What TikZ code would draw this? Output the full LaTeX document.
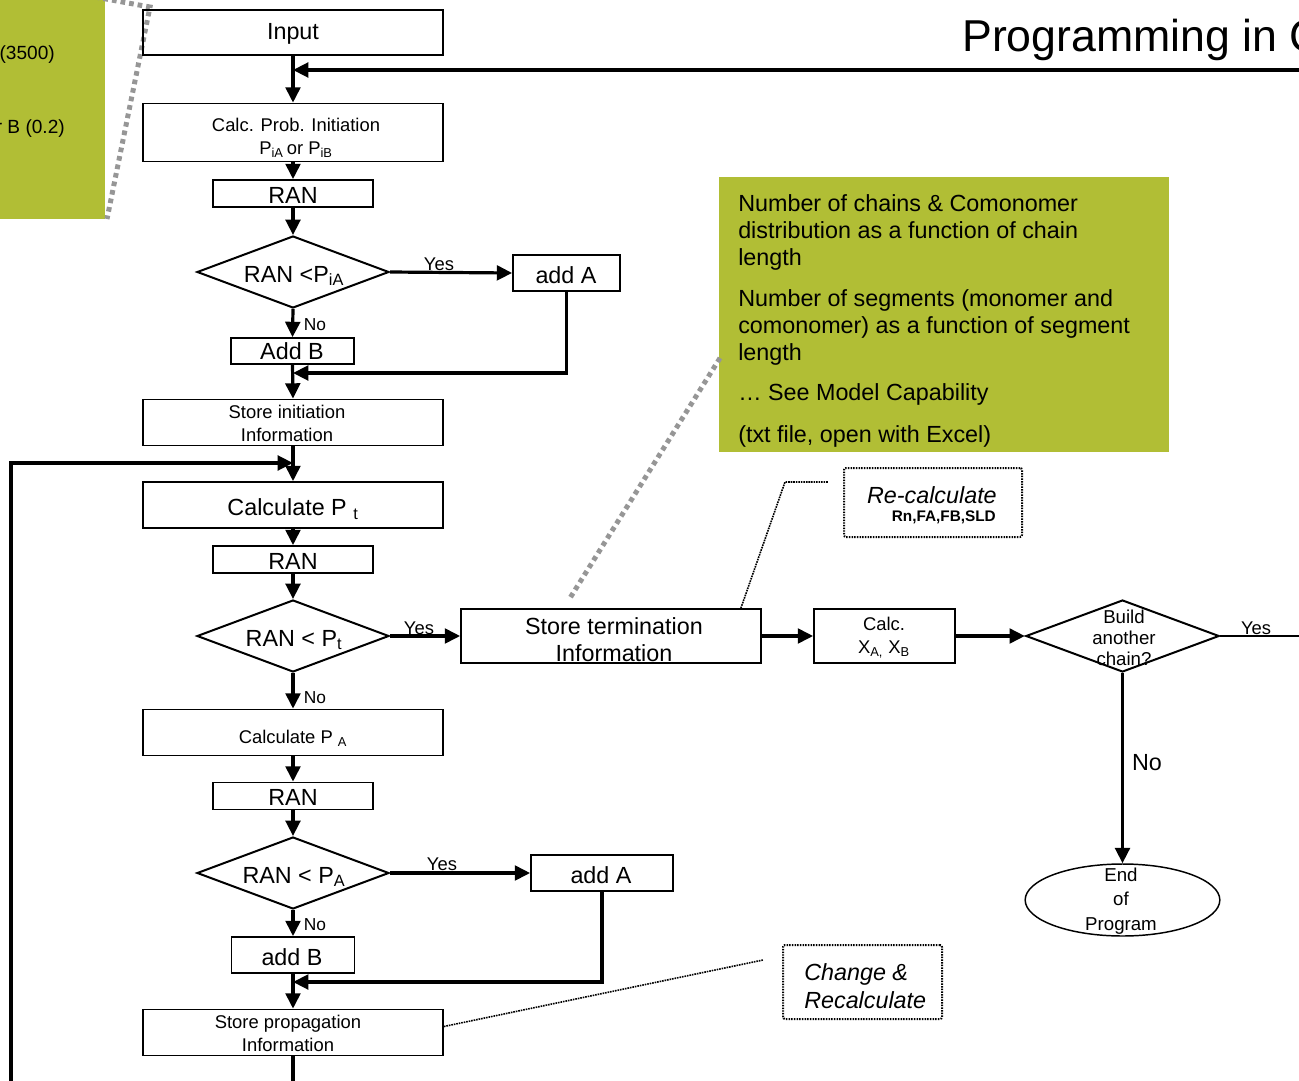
\documentclass[tikz,border=0pt]{standalone}
\usepackage{fontspec}
\setmainfont{Liberation Sans}
\usetikzlibrary{shapes.geometric,arrows.meta}
\definecolor{olivebox}{RGB}{177,190,53}
\definecolor{dotgray}{RGB}{150,150,150}
\newcommand{\fsA}{\fontsize{17.5pt}{20.25pt}\selectfont}
\newcommand{\fsB}{\fontsize{13.8pt}{17.25pt}\selectfont}
\newcommand{\fsC}{\fontsize{13pt}{15pt}\selectfont}
\newcommand{\fsT}{\fontsize{33.5pt}{40pt}\selectfont}
\begin{document}
\begin{tikzpicture}[x=0.75pt,y=-0.75pt,
  box/.style={draw,line width=1.3pt,inner sep=0pt,rectangle},
  dia/.style={draw,diamond,line width=1.5pt,inner sep=0pt,minimum width=144pt,minimum height=54pt},
  txt/.style={inner sep=0pt,align=center},
  flow/.style={line width=2.4pt,-{Triangle[length=11.5pt,width=11pt]}},
  thinline/.style={line width=0.8pt},
  callout/.style={line width=1.2pt,dash pattern=on 1.2pt off 0.7pt},
  note/.style={draw,line width=1.5pt,dash pattern=on 1.1pt off 0.9pt,rounded corners=1.5pt,rectangle,inner sep=0pt},
  graydots/.style={dotgray,line width=3.75pt,dash pattern=on 3.5pt off 3pt},
  green/.style={fill=olivebox,draw=none,rectangle,inner sep=0pt}
]
\useasboundingbox (0,0) rectangle (1299,1081);
\clip (0,0) rectangle (1299,1081);

% green boxes
\fill[olivebox] (-10,-10) rectangle (105,219);
\node[txt,anchor=base east,font=\fontsize{14.3pt}{17pt}\selectfont] (gl1) at (55,60) {(3500)};
\node[txt,anchor=base east,font=\fontsize{14.3pt}{17pt}\selectfont] (gl2) at (65,133) {r B (0.2)};

\node[green,minimum width=337.5pt,minimum height=206.25pt,anchor=north west] (gbox) at (719,177) {};
\foreach \n/\y/\t in {g1/211/{Number of chains \& Comonomer},
                      g2/238/{distribution as a function of chain},
                      g3/265/{length},
                      g4/306/{Number of segments (monomer and},
                      g5/333/{comonomer) as a function of segment},
                      g6/360/{length},
                      g7/400/{… See Model Capability},
                      g8/442/{(txt file, open with Excel)}}
  \node[txt,anchor=base west,font=\fsA] (\n) at (738,\y) {\t};

% gray dotted callout lines
\draw[graydots] (95,-3) -- (150,7) -- (107,219);
\draw[graydots] (720,358) -- (570,598);

% title
\node[txt,anchor=base west,font=\fsT] (title) at (962,52) {Programming in C};

% boxes
\node[box,minimum width=225pt,minimum height=33.75pt] (input) at (293,32.5) {};
\node[txt,font=\fsA] (inputt) at (293,34) {Input};
\node[box,minimum width=225pt,minimum height=43.5pt] (calcprob) at (293,132.5) {};
\node[txt,font=\fsB] (calcprobt) at (296,138) {Calc. Prob. Initiation\\P\textsubscript{iA}\,or P\textsubscript{iB}};
\node[box,minimum width=120pt,minimum height=20.25pt] (ran1) at (293,193.5) {};
\node[txt,font=\fsA] (ran1t) at (293,195) {RAN};
\node[dia] (d1) at (293,272) {};
\node[txt,font=\fsA] (d1t) at (294,276) {RAN <P\textsubscript{iA}};
\node[box,minimum width=80.25pt,minimum height=27pt] (addA1) at (566.5,273) {};
\node[txt,font=\fsA] (addA1t) at (566,275) {add A};
\node[box,minimum width=92.25pt,minimum height=19.5pt] (addB1) at (292.5,351) {};
\node[txt,font=\fsA] (addB1t) at (292,351) {Add B};
\node[box,minimum width=225pt,minimum height=34.5pt] (sinit) at (293,422.5) {};
\node[txt,font=\fsB,align=center] (sinitt) at (287,423) {Store initiation\\Information};

\node[box,minimum width=225pt,minimum height=34.5pt] (calcpt) at (293,505) {};
\node[txt,font=\fsA] (calcptt) at (293,509) {Calculate P \textsubscript{t}};
\node[box,minimum width=120pt,minimum height=20.25pt] (ran2) at (293,559.5) {};
\node[txt,font=\fsA] (ran2t) at (293,561) {RAN};
\node[dia] (d2) at (293,636) {};
\node[txt,font=\fsA] (d2t) at (294,640) {RAN < P\textsubscript{t}};
\node[box,minimum width=225pt,minimum height=40.5pt] (sterm) at (611,636) {};
\node[txt,font=\fsA,align=center] (stermt) at (614,640) {Store termination\\Information};
\node[box,minimum width=105.75pt,minimum height=40.5pt] (calcx) at (884.5,636) {};
\node[txt,font=\fsB,align=center] (calcxt) at (884,638) {Calc.\\X\textsubscript{A,} X\textsubscript{B}};
\node[dia,minimum width=145pt] (d3) at (1122.5,636) {};
\node[txt,font=\fontsize{14pt}{15.75pt}\selectfont,align=center] (d3t) at (1124,638) {Build\\another\\chain?};
\node[ellipse,draw,line width=1.1pt,inner sep=0pt,minimum width=146pt,minimum height=54pt] (endp) at (1122.5,900) {};
\node[txt,font=\fontsize{14pt}{18.4pt}\selectfont,align=center] (endpt) at (1121,901) {End\\of\\Program};

\node[box,minimum width=225pt,minimum height=34.5pt] (calcpa) at (293,732.5) {};
\node[txt,font=\fsB] (calcpat) at (293,738) {Calculate P \textsubscript{A}};
\node[box,minimum width=120pt,minimum height=20.25pt] (ran3) at (293,796) {};
\node[txt,font=\fsA] (ran3t) at (293,797) {RAN};
\node[dia] (d4) at (293,873) {};
\node[txt,font=\fsA] (d4t) at (294,877) {RAN < P\textsubscript{A}};
\node[box,minimum width=106.5pt,minimum height=27pt] (addA2) at (602,873) {};
\node[txt,font=\fsA] (addA2t) at (601,875) {add A};
\node[box,minimum width=92.25pt,minimum height=27pt] (addB2) at (293,955) {};
\node[txt,font=\fsA] (addB2t) at (292,957) {add B};
\node[box,minimum width=225pt,minimum height=34.5pt] (sprop) at (293,1032.5) {};
\node[txt,font=\fsB,align=center] (spropt) at (288,1033) {Store propagation\\Information};

% notes
\node[note,minimum width=133.5pt,minimum height=51.75pt] (recalc) at (933,502.5) {};
\node[txt,anchor=east,font=\fsA\itshape] (recalct1) at (997,495) {Re-calculate};
\node[txt,anchor=east,font=\fontsize{11.5pt}{13pt}\selectfont\bfseries] (recalct2) at (996,517) {Rn,FA,FB,SLD};
\node[note,minimum width=119.25pt,minimum height=55.5pt] (change) at (862.5,982) {};
\node[txt,anchor=west,align=left,font=\fontsize{17.5pt}{21pt}\selectfont\itshape] (changet) at (804,986) {Change \&\\Recalculate};

% coordinates
\coordinate (m0) at (293,70);
\coordinate (r0) at (1340,70);
\coordinate (r1) at (1340,636);
\coordinate (m1) at (293,373);
\coordinate (m2) at (293,463);
\coordinate (lb1) at (293,1110);
\coordinate (lb2) at (11,1110);
\coordinate (lt) at (11,463);
\coordinate (m3) at (293,982);
\coordinate (c1) at (785,482);
\coordinate (c2) at (828,482);
\coordinate (c3) at (763,960);

% connectors
\draw[flow] (input.south) -- (calcprob.north);
\draw[flow] (r0) -- (m0);
\draw[thinline] (d3.east) -- (r1) -- (r0);
\draw[flow] (calcprob.south) -- (ran1.north);
\draw[flow] (ran1.south) -- (d1.north);
\draw[flow] (d1.east) -- (addA1.west);
\draw[flow] (d1.south) -- (addB1.north);
\draw[flow] (addB1.south) -- (sinit.north);
\draw[flow] (addA1.south) |- (m1);
\draw[flow] (sinit.south) -- (calcpt.north);
\draw[flow] (sprop.south) -- (lb1) -- (lb2) -- (lt) -- (m2);
\draw[flow] (calcpt.south) -- (ran2.north);
\draw[flow] (ran2.south) -- (d2.north);
\draw[flow] (d2.east) -- (sterm.west);
\draw[flow] (d2.south) -- (calcpa.north);
\draw[flow] (sterm.east) -- (calcx.west);
\draw[flow] (calcx.east) -- (d3.west);
\draw[flow] (d3.south) -- (endp.north);
\draw[flow] (calcpa.south) -- (ran3.north);
\draw[flow] (ran3.south) -- (d4.north);
\draw[flow] (d4.east) -- (addA2.west);
\draw[flow] (d4.south) -- (addB2.north);
\draw[flow] (addB2.south) -- (sprop.north);
\draw[flow] (addA2.south) |- (m3);
\draw[callout] (sterm.north east) ++(-21,0) coordinate (c0) -- (c1) -- (c2);
\draw[callout] (sprop.east) ++(0,-6) -- (c3);

% labels
\node[txt,font=\fsB] (y1) at (439,264) {Yes};
\node[txt,font=\fsC] (n1) at (315,325) {No};
\node[txt,font=\fsB] (y2) at (419,628) {Yes};
\node[txt,font=\fsC] (n2) at (315,698) {No};
\node[txt,font=\fsB] (y3) at (442,864) {Yes};
\node[txt,font=\fsC] (n3) at (315,925) {No};
\node[txt,font=\fsB] (y4) at (1256,628) {Yes};
\node[txt,font=\fsA] (n4) at (1147,763) {No};
\end{tikzpicture}
\end{document}
